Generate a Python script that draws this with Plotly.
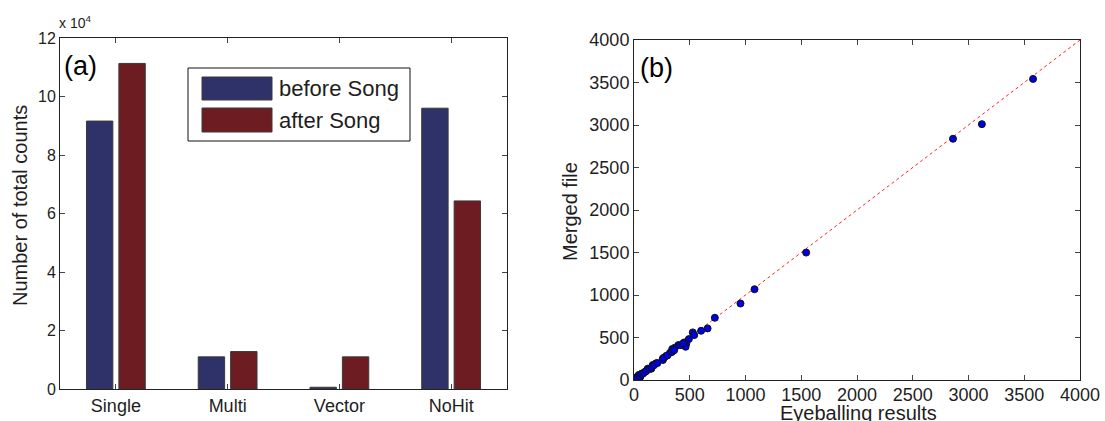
import plotly.graph_objects as go

# ---------------- data ----------------
categories = ["Single", "Multi", "Vector", "NoHit"]
before_song = [91600, 11000, 600, 96000]
after_song = [111300, 12800, 11000, 64300]
y_ticks_a = [0, 20000, 40000, 60000, 80000, 100000, 120000]
y_ticklabels_a = ["0", "2", "4", "6", "8", "10", "12"]

eyeballing = [3579, 3120, 2861, 1544, 1081, 955, 725, 660, 602, 527, 540, 492, 469, 463,
              450, 398, 366, 343, 324, 288, 259, 259, 197, 168, 155, 123, 100, 74, 58, 42,
              10, 20, 30, 50, 65, 85, 110, 140, 160, 180, 210, 270, 300, 340, 360, 420, 440]
merged = [3542, 3010, 2838, 1499, 1068, 900, 732, 607, 579, 560, 528, 481, 430, 391,
          442, 411, 380, 364, 321, 282, 254, 235, 196, 176, 133, 133, 98, 78, 39, 59,
          27, 15, 25, 45, 70, 80, 105, 130, 150, 175, 200, 265, 290, 330, 350, 410, 430]
ref_line = [0, 4000]
b_ticks = [0, 500, 1000, 1500, 2000, 2500, 3000, 3500, 4000]

BLUE = "#2e3268"
RED = "#6d1d22"
FONT = "Liberation Sans, Arial, sans-serif"
TXT = "#1e1e1e"

W, H = 1105, 421


def px(x):
    return x / W


def py(y):
    return 1 - y / H


fig = go.Figure()

fig.add_trace(go.Bar(x=categories, y=before_song, name="before Song",
                     marker=dict(color=BLUE, line=dict(color="#3a3a3a", width=1)),
                     xaxis="x", yaxis="y", showlegend=False))
fig.add_trace(go.Bar(x=categories, y=after_song, name="after Song",
                     marker=dict(color=RED, line=dict(color="#3a3a3a", width=1)),
                     xaxis="x", yaxis="y", showlegend=False))

fig.add_trace(go.Scatter(x=ref_line, y=ref_line, mode="lines",
                         line=dict(color="#ff2020", width=1, dash="3px,3px"),
                         xaxis="x2", yaxis="y2", showlegend=False))
fig.add_trace(go.Scatter(x=eyeballing, y=merged, mode="markers",
                         marker=dict(color="#0000e6", size=7, line=dict(color="#101010", width=1)),
                         xaxis="x2", yaxis="y2", showlegend=False))

axis_common = dict(showline=True, linecolor="#222222", linewidth=1, mirror="ticks",
                   ticks="inside", ticklen=5, tickcolor="#444444", showgrid=False,
                   zeroline=False, automargin=False)

fig.update_layout(
    width=W, height=H, autosize=False,
    margin=dict(l=0, r=0, t=0, b=0, pad=0),
    paper_bgcolor="white", plot_bgcolor="white",
    barmode="group", bargap=0.42, bargroupgap=0.186,
    xaxis=dict(domain=[px(60), px(507)], anchor="y", range=[-0.5, 3.5],
               tickfont=dict(family=FONT, size=18, color=TXT), **axis_common),
    yaxis=dict(domain=[py(389), py(38)], anchor="x", range=[0, 120000],
               tickvals=y_ticks_a, ticktext=y_ticklabels_a,
               tickfont=dict(family=FONT, size=16, color=TXT), **axis_common),
    xaxis2=dict(domain=[px(634), px(1080)], anchor="y2", range=[0, 4000],
                tickvals=b_ticks, ticklabelstandoff=-2,
                tickfont=dict(family=FONT, size=18, color=TXT), **axis_common),
    yaxis2=dict(domain=[py(380), py(40)], anchor="x2", range=[0, 4000],
                tickvals=b_ticks,
                tickfont=dict(family=FONT, size=18, color=TXT), **axis_common),
)

# legend box (drawn manually to match the wide swatches)
shapes = [
    dict(type="rect", xref="paper", yref="paper", x0=px(188), x1=px(410), y0=py(141), y1=py(68),
         line=dict(color="#111111", width=1), fillcolor="white", layer="above"),
    dict(type="rect", xref="paper", yref="paper", x0=px(202), x1=px(272), y0=py(100), y1=py(77),
         line=dict(color="#3a3a3a", width=1), fillcolor=BLUE, layer="above"),
    dict(type="rect", xref="paper", yref="paper", x0=px(202), x1=px(272), y0=py(132), y1=py(108),
         line=dict(color="#3a3a3a", width=1), fillcolor=RED, layer="above"),
]
fig.update_layout(shapes=shapes)

ann = [
    dict(text="before Song", x=px(277), y=py(88), xanchor="left", yanchor="middle",
         font=dict(family=FONT, size=22, color=TXT)),
    dict(text="after Song", x=px(277), y=py(120), xanchor="left", yanchor="middle",
         font=dict(family=FONT, size=22, color=TXT)),
    dict(text="(a)", x=px(62), y=py(66), xanchor="left", yanchor="middle",
         font=dict(family=FONT, size=27, color="#000000")),
    dict(text="(b)", x=px(638), y=py(68), xanchor="left", yanchor="middle",
         font=dict(family=FONT, size=27, color="#000000")),
    dict(text="x 10<sup>4</sup>", x=px(57), y=py(22), xanchor="left", yanchor="middle",
         font=dict(family=FONT, size=14, color=TXT)),
    dict(text="Number of total counts", x=px(20), y=py(206), xanchor="center", yanchor="middle",
         textangle=-90, font=dict(family=FONT, size=20, color=TXT)),
    dict(text="Merged file", x=px(570), y=py(212), xanchor="center", yanchor="middle",
         textangle=-90, font=dict(family=FONT, size=20, color=TXT)),
    dict(text="Eyeballing results", x=px(858), y=py(413), xanchor="center", yanchor="middle",
         font=dict(family=FONT, size=20, color=TXT)),
]
for a in ann:
    a.update(xref="paper", yref="paper", showarrow=False)
fig.update_layout(annotations=ann)

fig.write_html("out.html")
